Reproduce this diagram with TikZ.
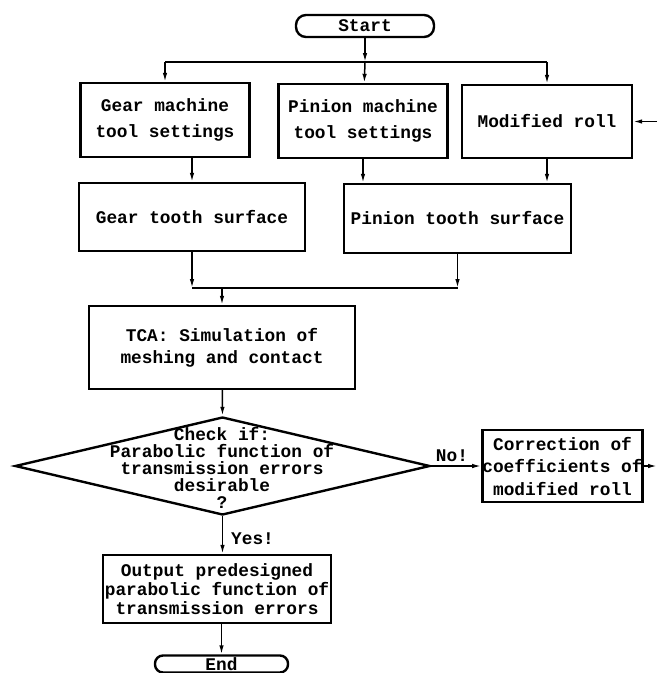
\documentclass[tikz,border=0pt]{standalone}
\usepackage{fontspec}
\newfontfamily\boxfont{Liberation Mono}
\usetikzlibrary{positioning,shapes.geometric,arrows.meta}
\newcommand\chartfont[1]{\boxfont\bfseries\fontsize{17.8}{#1}\selectfont}

\begin{document}
\begin{tikzpicture}[x=1pt, y=-1pt, >={Latex[length=9pt,width=4.5pt]},
    box/.style={draw, line width=2.4pt, align=center, inner sep=0pt},
    link/.style={line width=1.5pt}]
  \useasboundingbox (0,0) rectangle (657,673);
  \node[box, rounded corners=10pt, minimum width=138pt, minimum height=22pt,
    font=\chartfont{20}] (start) at (365,26) {Start};
  % machine settings
  \node[box, minimum width=169pt, minimum height=74pt, font=\chartfont{26}]
    (gearset) at (165,120) {Gear machine\\tool settings};
  \node[box, minimum width=169pt, minimum height=74pt, font=\chartfont{26}]
    (pinset) at (363,121) {Pinion machine\\tool settings};
  \node[box, minimum width=170pt, minimum height=73pt, font=\chartfont{26}]
    (modroll) at (547,121.5) {Modified roll};
  \node[box, minimum width=226pt, minimum height=68pt, font=\chartfont{20}]
    (geartooth) at (192,217) {Gear tooth surface};
  \node[box, minimum width=227pt, minimum height=69pt, font=\chartfont{20}]
    (piniontooth) at (457.5,218.5) {Pinion tooth surface};
  \node[box, minimum width=266pt, minimum height=83pt, font=\chartfont{22}]
    (tca) at (222,347.5) {TCA: Simulation of\\meshing and contact};
  % decision
  \node[draw, diamond, line width=2.4pt, minimum width=415pt,
    minimum height=98pt, inner sep=0pt] (check) at (222.5,466) {};
  \node[align=center, inner sep=0pt, font=\chartfont{17}] (checktxt)
    at (222,468) {Check if:\\Parabolic function of\\transmission errors\\desirable\\?};
  \node[box, minimum width=151pt, minimum height=72pt, font=\chartfont{22.5}]
    (corr) at (562.5,466) {Correction of\\coefficients of\\modified roll};
  \node[font=\chartfont{20}, inner sep=0pt] (no) at (452,456) {No!};
  \node[font=\chartfont{20}, inner sep=0pt, anchor=west] (yes) at (231,539) {Yes!};
  \node[box, minimum width=228pt, minimum height=68pt, font=\chartfont{19}]
    (output) at (217,589) {Output predesigned\\parabolic function of\\transmission errors};
  \node[box, rounded corners=8pt, minimum width=133pt, minimum height=17pt,
    font=\chartfont{17}] (endnode) at (221.5,664) {End};

  \coordinate (tl) at (165,62);
  \coordinate (tm) at (365,62);
  \coordinate (tr) at (547,62);
  \coordinate (jl) at (192,288);
  \coordinate (jm) at (222,288);
  \coordinate (jr) at (457.5,288);
  \coordinate (modin) at (657,121.5);
  \coordinate (corrout) at (657,466);

  \draw[link, ->] (start) -- (tm);
  \draw[link] (tl) -- (tr);
  \draw[link, ->] (tl) -- (gearset);
  \draw[link, ->] (tm) -- (pinset);
  \draw[link, ->] (tr) -- (modroll);
  \draw[link, ->] (modin) -- (modroll);
  \draw[link, ->] (gearset.south -| geartooth) -- (geartooth);
  \draw[link, ->] (pinset) -- (pinset |- piniontooth.north);
  \draw[link, ->] (modroll) -- (modroll |- piniontooth.north);
  \draw[link, ->] (geartooth) -- (jl);
  \draw[link, ->] (piniontooth) -- (jr);
  \draw[link] (jl) -- (jr);
  \draw[link, ->] (jm) -- (tca);
  \draw[link, ->] (tca) -- (check.north);
  \draw[link, ->] (check.south) -- (check.south |- output.north);
  \draw[link, ->] (output.south -| endnode) -- (endnode);
  \draw[link, ->] (check.east) -- (corr);
  \draw[link, ->] (corr) -- (corrout);
\end{tikzpicture}
\end{document}
